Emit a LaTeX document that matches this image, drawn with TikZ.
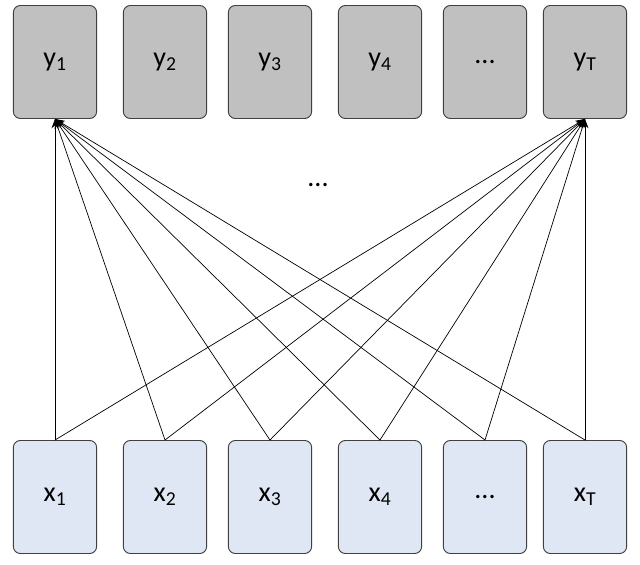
\documentclass[tikz,border=0pt]{standalone}
\usepackage{fontspec}
\setmainfont{Carlito}
\usetikzlibrary{arrows.meta, positioning}
\definecolor{inblue}{RGB}{222,231,243}
\definecolor{outgray}{RGB}{192,192,192}

\begin{document}
\begin{tikzpicture}[x=0.03cm,y=-0.03cm,>={Stealth[length=8pt,width=6pt]},
        box/.style={draw=black!75,thick,rounded corners=6pt,minimum width=2.5cm,minimum height=3.39cm,font=\fontsize{24}{28}\selectfont},
        outbox/.style={box,fill=outgray},
        inbox/.style={box,fill=inblue}]
        \useasboundingbox (0,0) rectangle (640,565);

        % outputs
        \foreach \n/\x/\t in {y1/55/{y\textsubscript{1}},y2/165/{y\textsubscript{2}},y3/270/{y\textsubscript{3}},y4/380/{y\textsubscript{4}},yd/485/{...},yT/585/{y\textsubscript{T}}}
            \node[outbox] (\n) at (\x,62) {\t};
        % inputs
        \foreach \n/\x/\t in {x1/55/{x\textsubscript{1}},x2/165/{x\textsubscript{2}},x3/270/{x\textsubscript{3}},x4/380/{x\textsubscript{4}},xd/485/{...},xT/585/{x\textsubscript{T}}}
            \node[inbox] (\n) at (\x,497) {\t};

        \node[font=\fontsize{24}{28}\selectfont] (dots) at (318,185) {...};

        \foreach \s in {x1,x2,x3,x4,xd,xT}
            \draw[->,semithick] (\s.north) -- (y1.south);
        \foreach \s in {x1,x2,x3,x4,xd,xT}
            \draw[->,semithick] (\s.north) -- (yT.south);
    \end{tikzpicture}
\end{document}
